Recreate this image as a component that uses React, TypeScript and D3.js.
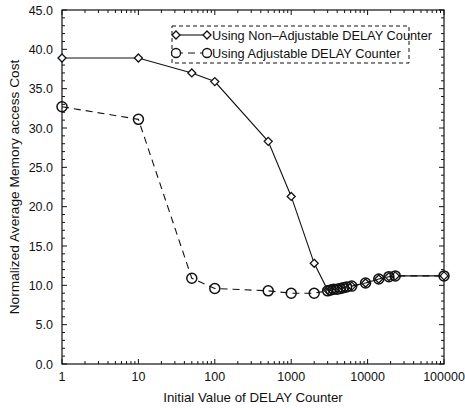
import React, { useEffect, useRef } from "react";
import * as d3 from "d3";

const xTicks = [1, 10, 100, 1000, 10000, 100000];
const yTicks = [0, 5, 10, 15, 20, 25, 30, 35, 40, 45];

const delayX = [1, 10, 50, 100, 500, 1000, 2000, 3000, 3300, 3600, 4000, 4400, 4800, 5300, 6200, 9400, 14000, 19000, 23000, 100000];
const fixedCost = [38.9, 38.9, 37.0, 35.9, 28.3, 21.3, 12.8, 9.4, 9.5, 9.5, 9.6, 9.6, 9.7, 9.8, 9.9, 10.3, 10.8, 11.1, 11.2, 11.2];

const adjX = [1, 10, 50, 100, 500, 1000, 2000, 3000, 3300, 3600, 4000, 4400, 4800, 5300, 6200, 9400, 14000, 19000, 23000, 100000];
const adjCost = [32.7, 31.1, 10.9, 9.6, 9.3, 9.0, 9.0, 9.3, 9.4, 9.5, 9.5, 9.6, 9.7, 9.8, 9.9, 10.3, 10.8, 11.1, 11.2, 11.2];

const legendLabels = ["Using Non\u2013Adjustable DELAY Counter", "Using Adjustable DELAY Counter"];

export default function App() {
  const svgRef = useRef<SVGSVGElement>(null);

  useEffect(() => {
    const W = 465, H = 408;
    const left = 62, right = 444, top = 10, bottom = 364;
    const font = "'Liberation Sans', Arial, sans-serif";
    const svg = d3.select(svgRef.current);
    svg.selectAll("*").remove();

    const x = d3.scaleLog().domain([1, 100000]).range([left, right]);
    const y = d3.scaleLinear().domain([0, 45]).range([bottom, top]);

    const ink = "#111";

    // frame
    svg.append("rect")
      .attr("x", left).attr("y", top)
      .attr("width", right - left).attr("height", bottom - top)
      .attr("fill", "none").attr("stroke", ink).attr("stroke-width", 1.2);

    // y ticks (inward, both sides)
    const yMinor = d3.range(0, 46, 1);
    yMinor.forEach((v) => {
      const len = v % 5 === 0 ? 5 : 3;
      svg.append("line").attr("x1", left).attr("x2", left + len)
        .attr("y1", y(v)).attr("y2", y(v)).attr("stroke", ink).attr("stroke-width", 1);
      svg.append("line").attr("x1", right).attr("x2", right - len)
        .attr("y1", y(v)).attr("y2", y(v)).attr("stroke", ink).attr("stroke-width", 1);
    });

    // x ticks (log, inward, both sides)
    const xMinor: number[] = [];
    for (let e = 0; e < 5; e++) for (let m = 1; m < 10; m++) xMinor.push(m * Math.pow(10, e));
    xMinor.push(100000);
    xMinor.forEach((v) => {
      const major = xTicks.includes(v);
      const len = major ? 5 : 3;
      svg.append("line").attr("x1", x(v)).attr("x2", x(v))
        .attr("y1", bottom).attr("y2", bottom - len).attr("stroke", ink).attr("stroke-width", 1);
      svg.append("line").attr("x1", x(v)).attr("x2", x(v))
        .attr("y1", top).attr("y2", top + len).attr("stroke", ink).attr("stroke-width", 1);
    });

    // tick labels
    svg.selectAll(".ylab").data(yTicks).enter().append("text")
      .attr("x", left - 9).attr("y", (d) => y(d) + 4.5)
      .attr("text-anchor", "end").attr("font-family", font).attr("font-size", 12.5)
      .attr("fill", ink).text((d) => d.toFixed(1));

    svg.selectAll(".xlab").data(xTicks).enter().append("text")
      .attr("x", (d) => x(d)).attr("y", bottom + 17)
      .attr("text-anchor", "middle").attr("font-family", font).attr("font-size", 12.5)
      .attr("fill", ink).text((d) => String(d));

    // axis titles
    svg.append("text")
      .attr("x", 253).attr("y", 402)
      .attr("text-anchor", "middle").attr("font-family", font).attr("font-size", 13.3)
      .attr("fill", ink).text("Initial Value of DELAY Counter");

    svg.append("text")
      .attr("transform", `translate(19,${(top + bottom) / 2}) rotate(-90)`)
      .attr("text-anchor", "middle").attr("font-family", font).attr("font-size", 13.7)
      .attr("fill", ink).text("Normalized Average Memory access Cost");

    const line = d3.line<[number, number]>().x((d) => x(d[0])).y((d) => y(d[1]));

    const fixedPts = delayX.map((v, i) => [v, fixedCost[i]] as [number, number]);
    const adjPts = adjX.map((v, i) => [v, adjCost[i]] as [number, number]);

    const diamond = (cx: number, cy: number, r: number) =>
      `M${cx},${cy - r}L${cx + r},${cy}L${cx},${cy + r}L${cx - r},${cy}Z`;

    // non-adjustable: solid with diamonds
    svg.append("path").attr("d", line(fixedPts)).attr("fill", "none")
      .attr("stroke", ink).attr("stroke-width", 1.1);
    svg.selectAll(".dia").data(fixedPts).enter().append("path")
      .attr("d", (d) => diamond(x(d[0]), y(d[1]), 4))
      .attr("fill", "white").attr("stroke", ink).attr("stroke-width", 1.3);

    // adjustable: dashed with circles
    svg.append("path").attr("d", line(adjPts)).attr("fill", "none")
      .attr("stroke", ink).attr("stroke-width", 1.1).attr("stroke-dasharray", "7,5");
    svg.selectAll(".circ").data(adjPts).enter().append("circle")
      .attr("cx", (d) => x(d[0])).attr("cy", (d) => y(d[1])).attr("r", 5)
      .attr("fill", "none").attr("stroke", ink).attr("stroke-width", 1.5);

    // legend
    const lx = 172, ly = 26, lw = 237, lh = 37;
    svg.append("rect").attr("x", lx).attr("y", ly).attr("width", lw).attr("height", lh)
      .attr("fill", "white").attr("stroke", ink).attr("stroke-width", 1)
      .attr("stroke-dasharray", "4,3");
    legendLabels.forEach((lab, i) => {
      const yy = ly + 9 + i * 18;
      svg.append("line").attr("x1", 176).attr("x2", 207).attr("y1", yy).attr("y2", yy)
        .attr("stroke", ink).attr("stroke-width", 1.1)
        .attr("stroke-dasharray", i === 0 ? null : "7,5");
      [176, 207].forEach((cx) => {
        if (i === 0) {
          svg.append("path").attr("d", diamond(cx, yy, 4)).attr("fill", "white")
            .attr("stroke", ink).attr("stroke-width", 1.3);
        } else {
          svg.append("circle").attr("cx", cx).attr("cy", yy).attr("r", 4.5)
            .attr("fill", "white").attr("stroke", ink).attr("stroke-width", 1.3);
        }
      });
      svg.append("text").attr("x", 212).attr("y", yy + 4.5)
        .attr("font-family", font).attr("font-size", 12.8).attr("fill", ink).text(lab);
    });

    svg.attr("width", W).attr("height", H);
  }, []);

  return (
    <div style={{ position: "fixed", left: 0, top: 0, background: "white" }}>
      <svg ref={svgRef} width={465} height={408} style={{ display: "block" }} />
    </div>
  );
}
